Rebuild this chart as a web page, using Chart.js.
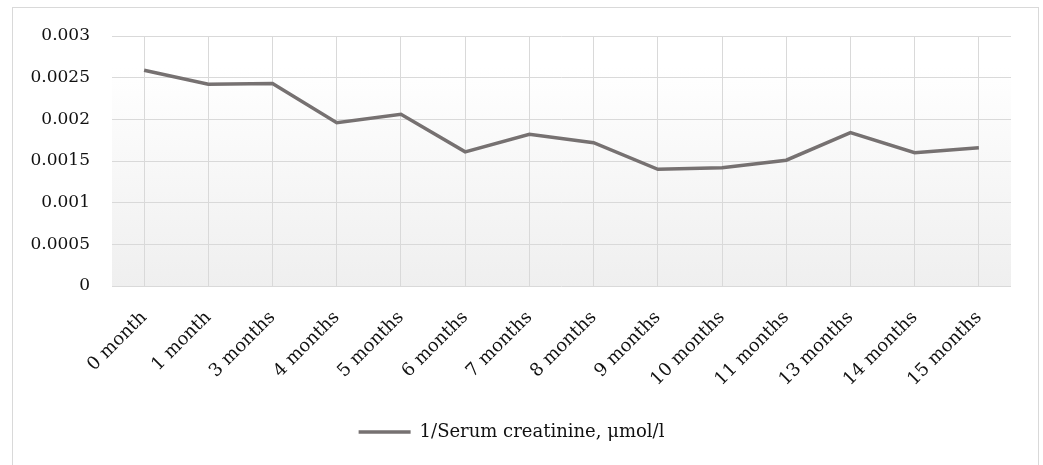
<!DOCTYPE html>
<html>
<head>
<meta charset="utf-8">
<script src="https://cdn.jsdelivr.net/npm/chart.js"></script>
<style>
  html, body { margin: 0; padding: 0; background: #fff; }
  #frame {
    position: absolute; left: 12px; top: 7px;
    width: 1025px; height: 480px;
    border: 1px solid #d9d9d9;
  }
  #wrap { position: absolute; left: 0; top: 0; width: 1043px; height: 465px; }
</style>
</head>
<body>
<div id="frame"></div>
<div id="wrap"><canvas id="chart"></canvas></div>
<script>
// data
const months = [
  '0 month', '1 month', '3 months', '4 months', '5 months', '6 months', '7 months',
  '8 months', '9 months', '10 months', '11 months', '13 months', '14 months', '15 months',
];
const invCreatinine = [
  0.00259, 0.00242, 0.00243, 0.00196, 0.00206, 0.00161, 0.00182,
  0.00172, 0.00140, 0.00142, 0.00151, 0.00184, 0.00160, 0.00166,
];
const seriesName = '1/Serum creatinine, \u03bcmol/l';
const yMax = 0.003;
const yStep = 0.0005;

const FONT = '"DejaVu Serif", "Liberation Serif", serif';
Chart.defaults.font.family = FONT;
Chart.defaults.font.size = 17;
Chart.defaults.color = '#111';

// soft gray gradient behind the plot, like the office chart
const plotBackground = {
  id: 'plotBackground',
  beforeDraw(chart) {
    const { ctx, chartArea: a } = chart;
    const g = ctx.createLinearGradient(0, a.top, 0, a.bottom);
    g.addColorStop(0, '#ffffff');
    g.addColorStop(0.12, '#ffffff');
    g.addColorStop(1, '#efefef');
    ctx.save();
    ctx.fillStyle = g;
    ctx.fillRect(a.left, a.top, a.right - a.left, a.bottom - a.top);
    ctx.restore();
  }
};

new Chart(document.getElementById('chart'), {
  type: 'line',
  data: {
    labels: months,
    datasets: [{
      label: seriesName,
      data: invCreatinine,
      borderColor: '#767171',
      backgroundColor: '#767171',
      borderWidth: 3.5,
      pointRadius: 0,
      tension: 0,
      fill: false,
    }],
  },
  options: {
    responsive: true,
    maintainAspectRatio: false,
    animation: false,
    layout: {
      padding: { left: 12, right: 32, top: 36, bottom: 14 },
    },
    scales: {
      x: {
        offset: true,
        grid: { offset: false, color: '#d9d9d9', drawTicks: false },
        border: { display: false },
        ticks: {
          maxRotation: 45, minRotation: 45, padding: 21, autoSkip: false,
          font: { size: 18 },
        },
        afterFit: (s) => { s.height = 127; },
      },
      y: {
        min: 0,
        max: yMax,
        grid: { color: '#d9d9d9', drawTicks: false },
        border: { display: false },
        ticks: {
          stepSize: yStep,
          padding: 22,
          callback: (v) => String(Number(v.toFixed(4))),
        },
        afterFit: (s) => { s.width = 100; },
      },
    },
    plugins: {
      legend: {
        position: 'bottom',
        labels: {
          usePointStyle: true,
          pointStyle: 'line',
          pointStyleWidth: 52,
          padding: 10,
          font: { size: 18 },
        },
      },
      tooltip: { enabled: false },
    },
  },
  plugins: [plotBackground],
});
</script>
</body>
</html>
